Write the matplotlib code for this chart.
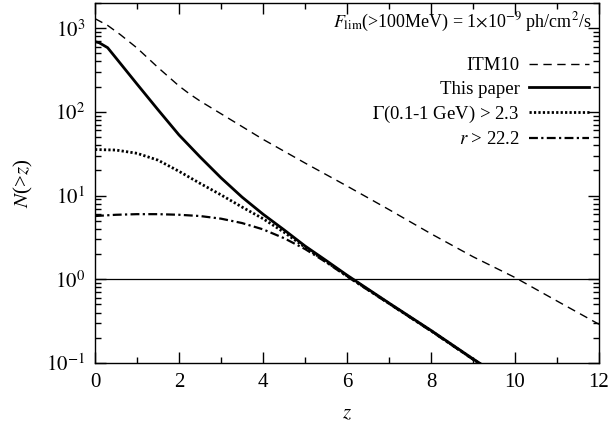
import matplotlib
matplotlib.use("Agg")
import matplotlib.pyplot as plt

plt.rcParams['font.family'] = ['Liberation Serif', 'DejaVu Serif']
plt.rcParams['mathtext.fontset'] = 'stix'

# ITM10 (dashed)
z_itm = [0, 0.3, 0.6, 1.0, 1.5, 1.75, 2.0, 2.25, 2.5, 3.0, 4.0, 5.0, 6.0, 7.0, 8.0, 9.0, 10.0, 11.0, 12.0]
n_itm = [1300, 1080, 840, 580, 339, 263, 204, 164, 135, 95, 47, 24.5, 13, 6.8, 3.5, 1.86, 1.05, 0.55, 0.29]

# This paper (solid)
z_this = [0, 0.1, 0.3, 0.5, 1.0, 1.5, 2.0, 2.5, 3.0, 3.5, 4.0, 4.5, 5.0, 5.5, 6.0, 7.0, 8.0, 9.0, 9.5]
n_this = [690, 670, 585, 440, 215, 106, 53, 29, 16.3, 9.6, 6.0, 3.9, 2.5, 1.68, 1.12, 0.52, 0.245, 0.112, 0.077]

# Gamma(0.1-1 GeV) > 2.3 (dotted)
z_gam = [0, 0.5, 1.0, 1.5, 2.0, 2.5, 3.0, 3.5, 4.0, 4.5, 5.0, 5.5, 6.0, 7.0, 8.0, 9.0, 9.5]
n_gam = [35.5, 35, 32, 26.5, 19.5, 14, 10.2, 7.3, 5.3, 3.65, 2.42, 1.63, 1.1, 0.515, 0.243, 0.111, 0.076]

# r > 22.2 (dash-dot)
z_r = [0, 0.5, 1.0, 1.5, 2.0, 2.5, 3.0, 3.5, 4.0, 4.5, 5.0, 5.5, 6.0, 7.0, 8.0, 9.0, 9.5]
n_r = [5.7, 5.9, 6.0, 6.0, 5.9, 5.7, 5.3, 4.7, 3.95, 3.1, 2.3, 1.6, 1.08, 0.51, 0.24, 0.11, 0.075]

fig = plt.figure(figsize=(6.11, 4.34), dpi=100)
ax = fig.add_axes([0.1555, 0.1636, 0.8249, 0.8295])

ax.axhline(1.0, color='black', lw=0.9)
l1, = ax.plot(z_itm, n_itm, color='black', lw=1.0, ls=(0, (6, 4)), label='ITM10')
l2, = ax.plot(z_this, n_this, color='black', lw=2.0, ls='-', label='This paper')
l3, = ax.plot(z_gam, n_gam, color='black', lw=2.0, ls=(0, (0.8, 0.8)), label=r'$\Gamma$(0.1-1 GeV) > 2.3')
l4, = ax.plot(z_r, n_r, color='black', lw=1.6, ls=(0, (4, 1.5, 1, 1.5)), label=r'$r$ > 22.2')

ax.set_yscale('log')
ax.set_xlim(0, 12)
ax.set_ylim(0.1, 2000)
ax.set_xticks([0, 2, 4, 6, 8, 10, 12])
ax.set_xticks([1, 3, 5, 7, 9, 11], minor=True)
ax.set_yticks([0.1, 1, 10, 100, 1000])
ax.set_yticklabels([r'$10^{\mathrm{-}1}$', r'$10^{0}$', r'$10^{1}$', r'$10^{2}$', r'$10^{3}$'])
ax.tick_params(which='both', direction='in', top=True, right=True, labelsize=15, width=1.0)
ax.tick_params(which='major', length=8, pad=7)
ax.tick_params(which='minor', length=4.5)
for s in ax.spines.values():
    s.set_linewidth(1.0)

ax.set_xlabel(r'$z$', fontsize=15, labelpad=9)
ax.set_ylabel(r'$N$(>$z$)', fontsize=15, labelpad=8)

ax.text(0.985, 0.945, r'$F_{\rm lim}$(>100MeV) = 1$\times$10$^{\mathrm{-}9}$ ph/cm$^2$/s',
        transform=ax.transAxes, ha='right', va='center', fontsize=13)

leg = ax.legend(handles=[l1, l2, l3, l4], loc='upper right', bbox_to_anchor=(0.995, 0.87),
                frameon=False, markerfirst=False, fontsize=13.5, handlelength=3.2,
                handletextpad=0.5, labelspacing=0.33, borderaxespad=0.0)

fig.savefig('out.png', dpi=100)
